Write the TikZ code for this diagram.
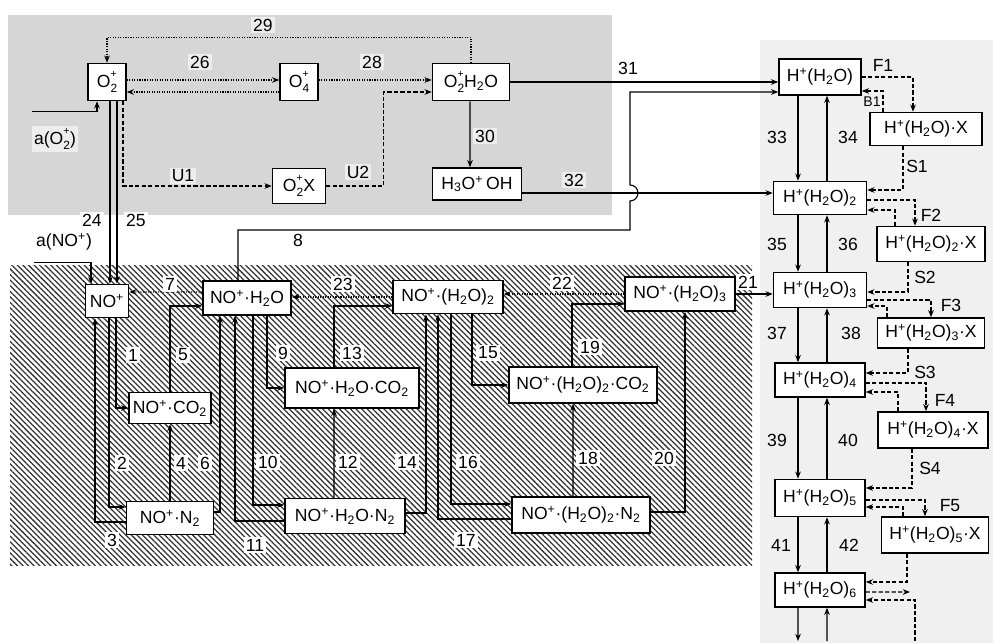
\documentclass[tikz,border=0pt]{standalone}
\usepackage{fontspec}
\setmainfont{Liberation Sans}
\usetikzlibrary{arrows.meta,patterns.meta}
\newcommand{\sbs}[1]{\textsubscript{#1}}
\newcommand{\spp}{\textsuperscript{+}}
\newcommand{\spsb}[1]{\makebox[0pt][l]{\raisebox{1.05ex}{\fontsize{7.5}{7.5}\selectfont +}}\raisebox{-0.55ex}{\fontsize{8.5}{8.5}\selectfont #1}}
\tikzset{
  fc/.style={draw, line width=1.1pt, fill=white, inner xsep=2pt, inner ysep=1pt,
             font=\fontsize{12.5}{14}\selectfont},
  fa/.style={-{Stealth[length=1.8mm,width=1.4mm]}, line width=0.8pt},
  fd/.style={fa, dash pattern=on 3pt off 1.6pt},
  fdot/.style={fa, densely dotted},
  lbl/.style={fill=white, inner sep=1.5pt, font=\fontsize{12.5}{14}\selectfont},
  lblg/.style={lbl, fill=gray!14},
  lblr/.style={lbl, fill=none}
}
\begin{document}
\begin{tikzpicture}[x=0.25mm, y=0.25mm]
  \useasboundingbox (0,0) rectangle (993,-643);
  % shaded regions
  \fill[gray!32] (8,-15) rectangle (612,-215);
  \fill[pattern={Lines[angle=-45,distance=2.8pt,line width=0.9pt]}, pattern color=black!80]
    (10,-265) rectangle (752,-565);
  \fill[gray!12] (760,-40) rectangle (993,-643);

  % O2+ group
  \node[fc, minimum width=9.5mm, minimum height=9.25mm] (o2) at (107,-82) {O\spsb{2}};
  \node[fc, minimum width=9.5mm, minimum height=9.25mm] (o4) at (299,-82) {O\spsb{4}};
  \node[fc, minimum width=19.25mm, minimum height=9.25mm] (o2w) at (471,-82) {O\spsb{2}H\sbs{2}O};
  \node[fc, minimum width=13.25mm, minimum height=8.75mm] (o2x) at (299,-186) {O\spsb{2}X};
  \node[fc, minimum width=22.25mm, minimum height=8mm] (h3o) at (477,-184) {H\sbs{3}O\spp\,OH};

  % NO+ group
  \node[fc, minimum width=10.75mm, minimum height=8.25mm] (no) at (107,-301) {NO\spp};
  \node[fc, minimum width=22mm, minimum height=8.5mm] (noh) at (247,-298) {NO\spp·H\sbs{2}O};
  \node[fc, minimum width=27.5mm, minimum height=8.25mm] (no2) at (448,-297) {NO\spp·(H\sbs{2}O)\sbs{2}};
  \node[fc, minimum width=27.5mm, minimum height=8.5mm] (no3) at (680,-294) {NO\spp·(H\sbs{2}O)\sbs{3}};
  \node[fc, minimum width=20.5mm, minimum height=7.75mm] (noco2) at (170,-408) {NO\spp·CO\sbs{2}};
  \node[fc, minimum width=21.75mm, minimum height=8.25mm] (non2) at (170,-518) {NO\spp·N\sbs{2}};
  \node[fc, minimum width=33.5mm, minimum height=10mm] (nohco2) at (352,-388) {NO\spp·H\sbs{2}O·CO\sbs{2}};
  \node[fc, minimum width=30mm, minimum height=8.75mm] (nohn2) at (345,-516) {NO\spp·H\sbs{2}O·N\sbs{2}};
  \node[fc, minimum width=37mm, minimum height=9mm] (no2co2) at (583,-385) {NO\spp·(H\sbs{2}O)\sbs{2}·CO\sbs{2}};
  \node[fc, minimum width=34.5mm, minimum height=9mm] (no2n2) at (581,-515) {NO\spp·(H\sbs{2}O)\sbs{2}·N\sbs{2}};

  % H+ column
  \node[fc, minimum width=20.5mm, minimum height=9mm] (h1) at (820,-77) {H\spp(H\sbs{2}O)};
  \node[fc, minimum width=28mm, minimum height=8.25mm] (hx1) at (926,-129) {H\spp(H\sbs{2}O)·X};
  \node[fc, minimum width=23.25mm, minimum height=8.25mm] (h2) at (820,-198) {H\spp(H\sbs{2}O)\sbs{2}};
  \node[fc, minimum width=27mm, minimum height=8.75mm] (hx2) at (931,-244) {H\spp(H\sbs{2}O)\sbs{2}·X};
  \node[fc, minimum width=23.25mm, minimum height=8.75mm] (h3) at (820,-290) {H\spp(H\sbs{2}O)\sbs{3}};
  \node[fc, minimum width=26.75mm, minimum height=7.5mm] (hx3) at (931,-333) {H\spp(H\sbs{2}O)\sbs{3}·X};
  \node[fc, minimum width=22.5mm, minimum height=8.5mm] (h4) at (820,-380) {H\spp(H\sbs{2}O)\sbs{4}};
  \node[fc, minimum width=27.5mm, minimum height=9mm] (hx4) at (933,-430) {H\spp(H\sbs{2}O)\sbs{4}·X};
  \node[fc, minimum width=22.5mm, minimum height=9.25mm] (h5) at (820,-498) {H\spp(H\sbs{2}O)\sbs{5}};
  \node[fc, minimum width=26.75mm, minimum height=9mm] (hx5) at (935,-535) {H\spp(H\sbs{2}O)\sbs{5}·X};
  \node[fc, minimum width=22.5mm, minimum height=8.5mm] (h6) at (820,-590) {H\spp(H\sbs{2}O)\sbs{6}};

  % source labels
  \node[lblg] (ao2) at (55,-139) {a(O\spsb{2})};
  \node[lbl] (anop) at (64,-242) {a(NO\spp)};

  \coordinate (f6) at (910,-592);
  \coordinate (b6) at (915,-641);
  \coordinate (d6) at (798,-641);
  \coordinate (u6) at (827,-641);

  % top reactions
  \draw[fa] ([yshift=3.75mm]ao2.north west) -| ([xshift=-2.5mm]o2.south);
  \draw[fdot] ([yshift=0.5mm]o2.east) -- ([yshift=0.5mm]o4.west);
  \draw[fdot] ([yshift=-2.5mm]o4.west) -- ([yshift=-2.5mm]o2.east);
  \draw[fdot] ([yshift=0.5mm]o4.east) -- ([yshift=0.5mm]o2w.west);
  \draw[fdot] (o2w.north) -- ++(0,25) -| (o2.north);
  \draw[fa] ([xshift=-0.25mm]o2w.south) -- ([xshift=-1.75mm]h3o.north);
  \draw[fd] ([xshift=4mm]o2.south) |- (o2x.west);
  \draw[fd] (o2x.east) -| ([xshift=-12mm,yshift=-2.5mm]o2w.west) -- ([yshift=-2.5mm]o2w.west);
  \draw[fa] (o2w.east) -- (o2w.east -| h1.west);
  \draw[fa] ([yshift=-2.25mm]h3o.east) -- ([yshift=-2.25mm]h3o.east -| h2.west);
  \draw[fa] ([xshift=-2.25mm]noh.north) |- (630,-230) -- (630,-201)
    arc[start angle=-90, end angle=90, radius=2mm] -- (630,-92) -- ([yshift=-3.75mm]h1.west);
  \draw[fa] ([xshift=0.75mm]o2.south) -- ([xshift=0.75mm]no.north);
  \draw[fa] ([xshift=2.5mm]o2.south) -- ([xshift=2.5mm]no.north);
  \draw[fa] ([yshift=-2.5mm]anop.south west) -| ([xshift=-4mm]no.north);

  % NO+ reactions
  \draw[fdot] ([yshift=1.5mm]noh.west) -- ([yshift=2.25mm]no.east);
  \draw[fdot] (no2.west) -- (no2.west -| noh.east);
  \draw[fdot] (no3.west) -- (no3.west -| no2.east);
  \draw[fa] (no3.east) -- (no3.east -| h3.west);
  \draw[fa] ([xshift=2.25mm]no.south) |- (noco2.west);
  \draw[fa] ([xshift=0.5mm]no.south) |- ([yshift=2.75mm]non2.west);
  \draw[fa] ([yshift=-1mm]non2.west) -| ([xshift=-3mm]no.south);
  \draw[fa] (non2.north) -- (noco2.south);
  \draw[fa] (noco2.north) |- ([yshift=-2mm]noh.west);
  \draw[fa] ([yshift=1.5mm]non2.east) -| ([xshift=-6.75mm]noh.south);
  \draw[fa] ([xshift=5mm]noh.south) |- (nohco2.west);
  \draw[fa] ([xshift=1.5mm]noh.south) |- ([yshift=2.75mm]nohn2.west);
  \draw[fa] ([yshift=-1.25mm]nohn2.west) -| ([xshift=-3mm]noh.south);
  \draw[fa] ([xshift=-2.75mm]nohn2.north) -- ([xshift=-4.5mm]nohco2.south);
  \draw[fa] ([xshift=-4.5mm]nohco2.north) |- ([yshift=-2.25mm]no2.west);
  \draw[fa] ([yshift=0.75mm]nohn2.east) -| ([xshift=-5.5mm]no2.south);
  \draw[fa] ([xshift=6mm]no2.south) |- (no2co2.west);
  \draw[fa] ([xshift=0.75mm]no2.south) |- ([yshift=2.75mm]no2n2.west);
  \draw[fa] ([yshift=-1mm]no2n2.west) -| ([xshift=-2.5mm]no2.south);
  \draw[fa] ([xshift=-2mm]no2n2.north) -- ([xshift=-2.5mm]no2co2.south);
  \draw[fa] ([xshift=-2.75mm]no2co2.north) |- ([yshift=-2.5mm]no3.west);
  \draw[fa] ([yshift=0.75mm]no2n2.east) -| ([xshift=1.25mm]no3.south);

  % H+ column
  \foreach \a/\b in {h1/h2, h2/h3, h3/h4, h4/h5, h5/h6} {
    \draw[fa] ([xshift=-5.5mm]\a.south) -- ([xshift=-5.5mm]\b.north);
    \draw[fa] ([xshift=1.75mm]\b.north) -- ([xshift=1.75mm]\a.south);
  }
  \draw[fa] ([xshift=-5.5mm]h6.south) -- (d6);
  \draw[fa] (u6) -- ([xshift=1.75mm]h6.south);
  \draw[fd] (h1.east) -| ([xshift=-3.25mm]hx1.north);
  \draw[fd] ([xshift=-10.75mm]hx1.north) |- ([yshift=-3.5mm]h1.east);
  \draw[fd] ([xshift=-5.75mm]hx1.south) |- ([yshift=2mm]h2.east);
  \draw[fd] ([yshift=-0.5mm]h2.east) -| ([xshift=-4mm]hx2.north);
  \draw[fd] ([xshift=-9mm]hx2.north) |- ([yshift=-3mm]h2.east);
  \draw[fd] ([xshift=-5.75mm]hx2.south) |- ([yshift=-0.5mm]h3.east);
  \draw[fd] ([yshift=-2.5mm]h3.east) -| (hx3.north);
  \draw[fd] ([xshift=-11mm]hx3.north) |- ([yshift=-4mm]h3.east);
  \draw[fd] ([xshift=-5.75mm]hx3.south) |- ([yshift=1.75mm]h4.east);
  \draw[fd] ([yshift=-0.75mm]h4.east) -| ([xshift=-1.75mm]hx4.north);
  \draw[fd] ([xshift=-8.75mm]hx4.north) |- ([yshift=-3mm]h4.east);
  \draw[fd] ([xshift=-5.25mm]hx4.south) |- ([yshift=2.5mm]h5.east);
  \draw[fd] ([yshift=-0.5mm]h5.east) -| ([xshift=-2.5mm]hx5.north);
  \draw[fd] ([xshift=-8mm]hx5.north) |- ([yshift=-2.25mm]h5.east);
  \draw[fd] ([xshift=-7mm]hx5.south) |- ([yshift=2mm]h6.east);
  \draw[fd] ([yshift=-0.5mm]h6.east) -- (f6);
  \draw[fd] (b6) |- ([yshift=-2.5mm]h6.east);

  % reaction numbers
  \node[lblg] (l26) at (200,-62) {26};
  \node[lblg] (l28) at (372,-62) {28};
  \node[lblg] (l29) at (263,-25) {29};
  \node[lblg] (l30) at (485,-136) {30};
  \node[lblg] (lu1) at (183,-176) {U1};
  \node[lblg] (lu2) at (358,-172) {U2};
  \node[lblg] (l32) at (574,-180) {32};
  \node[lbl] (l31) at (628,-68) {31};
  \node[lbl] (l24) at (92,-220) {24};
  \node[lbl] (l25) at (136,-220) {25};
  \node[lbl] (l8) at (298,-240) {8};
  \node[lbl] (l7) at (170,-284) {7};
  \node[lbl] (l23) at (343,-284) {23};
  \node[lbl] (l22) at (562,-283) {22};
  \node[lbl] (l21) at (748,-282) {21};
  \node[lbl] (l1) at (133,-355) {1};
  \node[lbl] (l5) at (183,-355) {5};
  \node[lbl] (l9) at (283,-353) {9};
  \node[lbl] (l13) at (352,-353) {13};
  \node[lbl] (l15) at (488,-353) {15};
  \node[lbl] (l19) at (590,-347) {19};
  \node[lbl] (l2) at (122,-463) {2};
  \node[lbl] (l4) at (181,-463) {4};
  \node[lbl] (l6) at (205,-463) {6};
  \node[lbl] (l10) at (268,-462) {10};
  \node[lbl] (l12) at (348,-462) {12};
  \node[lbl] (l14) at (407,-462) {14};
  \node[lbl] (l16) at (468,-462) {16};
  \node[lbl] (l18) at (588,-458) {18};
  \node[lbl] (l20) at (664,-458) {20};
  \node[lbl] (l3) at (112,-540) {3};
  \node[lbl] (l11) at (255,-545) {11};
  \node[lbl] (l17) at (466,-540) {17};
  \node[lblr] (lf1) at (883,-65) {F1};
  \node[lblr, font=\fontsize{10}{12}\selectfont] (lb1) at (872,-102) {B1};
  \node[lblr] (l33) at (777,-137) {33};
  \node[lblr] (l34) at (848,-137) {34};
  \node[lblr] (ls1) at (917,-166) {S1};
  \node[lblr] (lf2) at (931,-215) {F2};
  \node[lblr] (l35) at (777,-244) {35};
  \node[lblr] (l36) at (848,-244) {36};
  \node[lblr] (ls2) at (925,-277) {S2};
  \node[lblr] (lf3) at (951,-305) {F3};
  \node[lblr] (l37) at (777,-333) {37};
  \node[lblr] (l38) at (851,-333) {38};
  \node[lblr] (ls3) at (925,-372) {S3};
  \node[lblr] (lf4) at (945,-400) {F4};
  \node[lblr] (l39) at (777,-440) {39};
  \node[lblr] (l40) at (848,-440) {40};
  \node[lblr] (ls4) at (930,-468) {S4};
  \node[lblr] (lf5) at (950,-506) {F5};
  \node[lblr] (l41) at (781,-545) {41};
  \node[lblr] (l42) at (849,-545) {42};
\end{tikzpicture}
\end{document}
